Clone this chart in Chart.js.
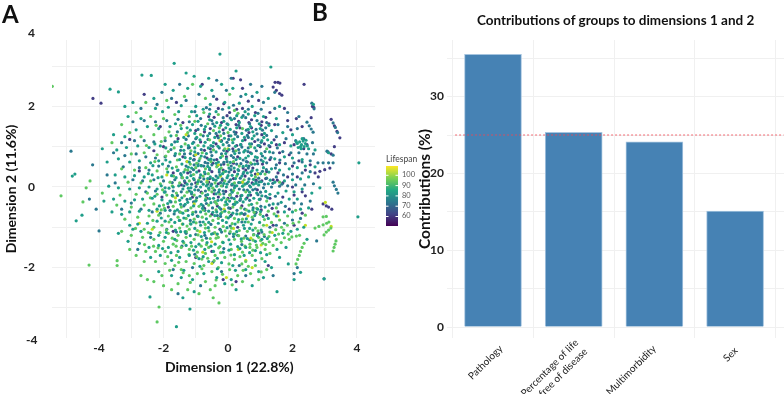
<!DOCTYPE html>
<html>
<head>
<meta charset="utf-8">
<script src="https://cdn.jsdelivr.net/npm/chart.js@4"></script>
<style>
body { margin: 0; background: #fff; }
#page { position: relative; width: 784px; height: 394px; overflow: hidden; font-family: Lato, sans-serif; color: #111; }
canvas { position: absolute; top: 0; }
#scatter { left: 0; }
#bars { left: 412px; }
.txt { position: absolute; font-weight: 700; white-space: nowrap; line-height: 1; }
</style>
</head>
<body>
<div id="page">
<canvas id="scatter" width="440" height="394"></canvas>
<canvas id="bars" width="372" height="394"></canvas>
<div class="txt" style="left:2px;top:2px;font-size:24px">A</div>
<div class="txt" style="left:312px;top:0;font-size:24px">B</div>
<div class="txt" style="left:28px;top:27px;font-size:12px;color:#222">4</div>
<div class="txt" style="left:26px;top:334px;font-size:12px;color:#222">-4</div>
<div class="txt" style="left:165px;top:360px;font-size:14px">Dimension 1 (22.8%)</div>
<div class="txt" id="barTitle" style="left:477px;top:14px;font-size:13.5px"></div>
</div>
<script>
// flat x,y pairs, one list per lifespan colour
const lifespan100 = [
-1.42,-.92,-.35,-1.18,.32,-1.55,1.03,-1.44,-.78,-1.62,-1.05,-.42,.62,-.72,-.12,-.55,-2.35,-1.05,-.3,.55,.45,.12,1.2,-.95,3.2,-.98,3.02,-.38,
-1.9,.3,-.5,-1.9,.75,-2.0,-2.2,-.6,.0,.95,-1.3,1.3,-.65,.15,1.55,-.72,.92,.32,-.05,-2.25,-1.0,.8,2.4,-.95,-2.75,-.9,-.25,1.15,.55,-1.82,
-.87,-1.11,-.51,-1.36,.17,-1.03,-1.63,-.27,.71,-1.27,1.37,-1.13,-.23,.27,-1.27,.63
];
const lifespan90 = [
-5.45,2.5,-5.18,-.22,-4.31,-1.94,-3.44,-1.95,-3.44,-1.83,-2.2,-3.35,-2.14,-2.98,-.28,-2.88,-.46,-2.75,-.9,-2.65,-1.75,-2.55,-2.0,-2.45,-2.3,-2.35,-2.05,-2.2,-2.7,-2.2,-2.5,-2.3,
-1.55,-2.4,-1.25,-2.55,-.7,-2.35,-.55,-2.55,-.4,-2.45,-.95,-2.15,-1.2,-2.2,-1.45,-2.05,-1.65,-1.95,-1.95,-1.9,-2.25,-1.85,-2.6,-1.85,-2.85,-1.7,-3.05,-1.55,-2.55,-1.6,-2.25,-1.6,
-1.95,-1.6,-1.6,-1.7,-1.3,-1.85,-1.05,-1.9,-.75,-1.95,-.5,-2.1,-.3,-2.0,.05,-2.05,.3,-2.2,.45,-2.35,.7,-2.15,.95,-2.3,1.2,-2.05,.85,-1.95,.55,-1.85,.2,-1.8,
-.1,-1.75,-.4,-1.7,-.7,-1.65,-.95,-1.62,-1.2,-1.55,-1.45,-1.5,-1.7,-1.42,-2.0,-1.35,-2.3,-1.3,-2.65,-1.25,-3.0,-1.2,-3.3,-1.1,-.6,-1.5,-.25,-1.48,.1,-1.55,.45,-1.62,.75,-1.7,1.05,-1.78,1.3,-1.65,
-1.85,-1.15,-1.55,-1.2,-1.3,-1.25,-1.05,-1.3,-.8,-1.32,-.55,-1.28,-.3,-1.25,-.05,-1.22,.2,-1.3,.42,-1.35,.68,-1.42,.9,-1.5,1.15,-1.55,1.4,-1.45,1.65,-1.38,1.9,-1.3,2.12,-1.22,
.78,-1.32,.95,-1.25,1.12,-1.18,1.3,-1.12,1.48,-1.06,1.66,-1.0,1.84,-.95,2.02,-.9,2.2,-.87,.68,-1.5,.88,-1.44,1.08,-1.4,1.28,-1.36,1.5,-1.3,1.75,-1.26,1.98,-1.24,2.22,-1.2,
2.11,-1.91,2.16,-1.8,2.21,-1.7,2.25,-1.6,2.3,-1.5,2.36,-1.4,3.26,-1.59,3.29,-1.5,3.32,-1.42,3.35,-1.34,2.7,-1.02,2.82,-.98,2.95,-.94,3.06,-.9,3.13,-.87,2.98,-1.19,3.05,-1.12,3.12,-1.07,3.19,-1.02,2.95,-.74,3.05,-.73,
-2.6,-1.05,-2.3,-1.0,-2.05,-.95,-1.75,-.98,-1.5,-1.02,-1.2,-1.05,-.95,-1.08,-.7,-1.02,-.4,-1.0,-.15,-.98,.1,-1.02,.35,-1.08,.6,-1.1,.85,-1.02,1.1,-.95,1.35,-.88,1.6,-.82,1.85,-.72,
-3.2,-.8,-2.8,-.75,-2.45,-.72,-2.15,-.7,-1.85,-.72,-1.55,-.75,-1.3,-.78,-1.05,-.8,-.8,-.75,-.55,-.72,-.3,-.78,-.05,-.75,.2,-.78,.45,-.8,.75,-.75,1.0,-.68,1.25,-.6,1.5,-.52,2.4,-.7,2.1,-.58,
-3.45,-.45,-3.0,-.5,-2.6,-.45,-2.3,-.42,-2.0,-.45,-1.7,-.48,-1.45,-.5,-1.15,-.52,-.9,-.48,-.6,-.45,-.35,-.42,-.1,-.45,.15,-.5,.4,-.52,.65,-.45,.9,-.4,1.2,-.35,
-3.9,-.15,-4.5,-.37,-3.35,-.2,-2.85,-.18,-2.5,-.15,-2.2,-.18,-1.9,-.2,-1.6,-.15,-1.35,-.22,-1.05,-.2,-.8,-.15,-.5,-.12,-.25,-.18,.05,-.2,.3,-.15,.55,-.12,
-3.1,.12,-2.7,.1,-2.4,.15,-2.1,.08,-1.8,.12,-1.5,.1,-1.2,.15,-.95,.08,-.65,.12,-.4,.1,-.1,.15,.2,.1,.5,.18,.85,.25,1.15,.32,1.6,.12,
-4.28,.15,-4.4,-.02,-3.3,.45,-2.9,.42,-2.55,.48,-2.2,.4,-1.9,.45,-1.6,.5,-1.25,.42,-1.0,.48,-.7,.45,-.35,.5,.0,.55,.35,.52,.7,.6,
-3.6,1.1,-3.0,.82,-2.6,.85,-2.2,.8,-1.85,.88,-1.5,.82,-1.15,.9,-.8,.85,-.45,.92,-.1,.95,.25,.9,.7,1.0,1.2,.95,
-3.3,1.55,-3.05,1.35,-2.7,1.25,-2.3,1.3,-1.95,1.22,-1.6,1.28,-1.25,1.35,-.85,1.3,-.45,1.4,.0,1.35,.45,1.45,
-2.85,1.85,-2.4,1.75,-2.0,1.7,-1.65,1.8,-1.2,1.75,-.75,1.85,-.3,1.8,.2,1.9,-2.55,2.1,-1.9,2.15,-1.35,2.25,-.7,2.2,.05,2.3,-1.1,2.55,
-1.73,-1.27,-1.37,-1.39,-1.13,-1.47,-.93,-1.19,-.67,-1.43,-.41,-1.13,-.17,-1.37,.07,-1.11,.33,-1.21,.53,-1.47,.79,-1.19,1.01,-1.33,-1.91,-1.07,-1.59,-1.33,-1.27,-.97,-.83,-1.47,-.59,-1.09,-.29,-1.51,
-1.83,-.87,-1.47,-.63,-1.17,-.91,-.77,-.57,-.47,-.83,-.19,-.63,.13,-.91,.37,-.67,.63,-.87,.89,-.53,1.13,-.81,1.43,-.67,-1.97,-.53,-1.63,-.37,-1.31,-.59,-.99,-.33,-.69,-.29,-.37,-.57,-.03,-.31,.23,-.37,
-.97,-1.73,-.63,-1.77,-.23,-1.63,.03,-1.91,.37,-1.73,.63,-1.97,-1.53,-1.87,-1.87,-1.73,-2.17,-1.51,-.81,-2.03,-.17,-2.17,.47,-2.07,1.03,-2.11,-1.17,-2.37,-.37,-2.31,.13,-2.43,-2.47,-1.13,-2.87,-1.03,
-2.33,-.83,-2.07,-.57,-2.41,-.27,-2.03,-.07,-1.73,.03,-1.41,.23,-1.07,.31,-.77,.27,-.47,-.03,-.13,.37,.27,.27,-2.27,.63,-1.93,.77,-1.57,.67,-1.17,.57,-.87,.71,-.53,.63,-.17,.77,.17,.63,
-2.53,1.03,-2.07,1.13,-1.67,.97,-1.33,1.07,-.93,1.03,-.57,1.17,-.23,1.27,.13,1.17,-1.47,1.53,-1.03,1.63,-.63,1.57,-.27,1.47,.31,1.83,-1.83,1.37,-2.23,1.53,1.73,-1.07,1.57,-1.17,1.27,-1.23,1.87,-1.17,
-1.29,-1.11,-.99,-.89,-.71,-.93,-.37,-1.27,-.09,-1.09,.21,-1.17,.49,-1.27,.93,-1.09,-1.49,-.83,-1.09,-.63,-.69,-.67,-.39,-.37,.03,-.63,.31,-.87,.57,-.57,.81,-.63,-1.61,-1.47,-1.21,-1.67,-.81,-1.79,-.43,-1.83,.09,-1.69,.43,-1.91,.77,-1.57,1.17,-1.43,
-1.71,-.23,-1.27,-.13,-.91,.17,-.59,-.07,-.21,.03,.17,-.09,.47,.03,-1.69,.27,-1.33,.43,-.97,.59,-.61,.33,-.21,.47,-2.11,-1.13,-2.31,-1.47,-2.59,-1.43,-1.81,-2.07,-1.39,-2.13
];
const lifespan80 = [
-1.6,-3.47,-1.18,-3.03,1.52,-2.6,2.98,-2.28,-2.42,-2.73,-4.71,-.84,-4.53,-.7,4.03,-.74,4.06,.6,1.87,-1.91,2.05,-2.3,2.25,-2.12,-1.4,-2.75,-1.05,-2.6,-.1,-2.4,.25,-2.55,.75,-2.45,1.1,-2.25,
-2.15,-2.1,-1.75,-2.2,-1.45,-2.25,-1.1,-2.3,-.75,-2.15,-.35,-2.25,.1,-2.3,.55,-2.05,.95,-2.1,1.35,-2.0,1.6,-1.75,-2.4,-1.75,-2.1,-1.7,-1.75,-1.82,-1.5,-1.75,-1.2,-1.7,-.9,-1.78,-.6,-1.85,-.2,-1.88,.15,-1.95,.5,-1.7,.85,-1.82,1.15,-1.85,
-3.4,-1.15,-3.1,-1.35,-2.75,-1.4,-2.45,-1.5,-2.15,-1.45,-1.85,-1.5,-1.55,-1.6,-1.3,-1.45,-1.0,-1.48,-.72,-1.55,-.45,-1.6,-.15,-1.62,.2,-1.68,.55,-1.5,.85,-1.58,1.2,-1.68,1.52,-1.55,1.8,-1.5,
-2.95,-1.05,-2.7,-1.1,-2.4,-1.15,-2.15,-1.2,-1.95,-1.25,-1.65,-1.3,-1.4,-1.35,-1.15,-1.38,-.9,-1.42,-.65,-1.38,-.4,-1.42,-.15,-1.38,.08,-1.42,.3,-1.48,.6,-1.28,.85,-1.35,1.05,-1.3,1.22,-1.28,1.45,-1.2,1.7,-1.15,1.95,-1.1,2.15,-1.05,2.35,-1.0,2.45,-1.3,
-3.05,-.95,-2.8,-.92,-2.5,-.9,-2.2,-.85,-1.95,-.85,-1.65,-.88,-1.4,-.92,-1.15,-.92,-.85,-.95,-.6,-.88,-.3,-.9,-.05,-.88,.22,-.92,.48,-.95,.72,-.92,.98,-.88,1.25,-.78,1.5,-.72,1.75,-.62,2.0,-.62,2.25,-.55,2.5,-.52,
-3.6,-.62,-3.3,-.68,-3.05,-.62,-2.75,-.6,-2.45,-.58,-2.2,-.55,-1.95,-.58,-1.65,-.6,-1.4,-.65,-1.1,-.68,-.85,-.62,-.6,-.6,-.35,-.62,-.1,-.6,.15,-.65,.42,-.65,.65,-.6,.92,-.55,1.15,-.5,1.4,-.42,1.65,-.38,1.9,-.3,2.15,-.3,2.6,-.15,
-3.85,-.35,-3.55,-.3,-3.2,-.35,-2.9,-.32,-2.65,-.3,-2.35,-.28,-2.05,-.32,-1.8,-.35,-1.5,-.33,-1.25,-.38,-1.0,-.35,-.7,-.33,-.45,-.28,-.2,-.32,.05,-.35,.28,-.38,.55,-.3,.8,-.28,1.05,-.22,1.3,-.18,1.55,-.15,1.8,-.1,2.05,-.12,2.3,-.05,2.85,-.02,
-3.7,.02,-3.4,-.02,-3.05,-.05,-2.75,-.02,-2.45,.0,-2.2,-.05,-1.95,-.02,-1.7,.0,-1.4,-.05,-1.15,-.02,-.85,.0,-.6,-.03,-.35,.02,-.05,.0,.2,-.02,.45,.02,.7,.0,.95,.05,1.25,.08,1.45,.12,1.75,.15,2.0,.18,2.25,.2,2.5,.25,
-4.83,.27,-4.75,.32,-3.5,.3,-3.2,.25,-2.9,.28,-2.6,.25,-2.35,.3,-2.05,.25,-1.75,.28,-1.45,.3,-1.15,.28,-.85,.3,-.55,.25,-.25,.3,.0,.28,.3,.32,.6,.35,.9,.42,1.1,.48,1.35,.45,1.6,.42,1.9,.45,2.15,.48,2.4,.52,2.7,.5,
-3.75,.62,-3.4,.7,-3.05,.62,-2.75,.65,-2.4,.6,-2.15,.65,-1.8,.62,-1.5,.68,-1.2,.62,-.9,.65,-.6,.68,-.3,.62,-.05,.7,.25,.68,.55,.72,.85,.75,1.15,.72,1.45,.7,1.75,.75,2.0,.72,2.3,.68,
-3.9,.95,-3.45,.92,-3.15,.98,-2.8,1.02,-2.45,.98,-2.1,1.02,-1.75,1.05,-1.45,1.0,-1.1,1.08,-.75,1.02,-.45,1.1,-.15,1.05,.15,1.1,.45,1.15,.75,1.2,1.05,1.15,1.35,1.1,1.6,1.05,1.95,1.02,2.25,1.0,2.5,.95,2.7,.92,
-3.55,1.3,-3.2,1.25,-2.85,1.42,-2.5,1.5,-2.15,1.45,-1.8,1.5,-1.45,1.45,-1.1,1.55,-.7,1.5,-.35,1.6,.0,1.55,.35,1.6,.7,1.5,1.0,1.45,1.35,1.4,1.7,1.35,2.0,1.3,
-3.4,2.36,-3.66,2.43,-2.67,2.78,-2.38,2.77,-1.67,3.07,-1.3,2.83,-.25,3.3,.25,2.88,1.33,2.98,-3.1,1.75,-2.7,1.7,-2.25,1.95,-1.85,1.98,-1.45,2.02,-1.0,2.0,-.55,2.05,-.1,2.1,.35,2.08,.75,2.0,1.1,1.75,1.5,1.7,
-3.2,2.0,-2.95,2.1,-2.3,2.2,-1.7,2.4,-1.25,2.45,-.85,2.5,-.5,2.4,-.2,2.55,.15,2.45,.55,2.3,.9,2.35,1.25,2.2,1.6,2.0,2.65,2.05,-1.95,2.55,-1.05,2.75,-.6,2.7,3.12,.85,
-1.91,-1.13,-1.63,-1.07,-1.33,-1.11,-1.03,-1.03,-.73,-1.13,-.51,-1.17,-.23,-1.07,.03,-1.31,.27,-1.11,.51,-1.03,.77,-1.07,1.03,-1.07,-2.07,-.77,-1.77,-.81,-1.51,-.83,-1.23,-.71,-.93,-.73,-.67,-.79,-.41,-.71,-.17,-.83,.07,-.73,.33,-.81,.57,-.79,.83,-.71,1.09,-.73,
-2.13,-.47,-1.87,-.41,-1.57,-.57,-1.33,-.43,-1.07,-.47,-.79,-.53,-.53,-.39,-.27,-.51,-.03,-.43,.21,-.43,.47,-.37,.73,-.43,.97,-.31,1.23,-.27,-2.27,-.23,-1.97,-.13,-1.73,-.21,-1.43,-.27,-1.13,-.13,-.87,-.23,-.63,-.19,-.37,-.17,-.13,-.27,.13,-.13,.39,-.29,.63,-.21,.89,-.15,1.17,-.11,
-2.07,.03,-1.83,-.03,-1.53,.03,-1.27,.07,-1.03,-.07,-.77,.07,-.53,.03,-.27,-.07,-.03,.07,.27,.03,.53,.07,.79,.07,1.03,.13,1.31,.17,-2.47,.33,-2.17,.23,-1.87,.37,-1.61,.23,-1.37,.37,-1.07,.21,-.73,.37,-.47,.21,-.17,.33,.13,.29,.43,.27,.73,.29,1.01,.33,1.27,.37,
-2.33,.53,-2.03,.57,-1.73,.47,-1.43,.57,-1.13,.47,-.83,.53,-.57,.47,-.27,.43,.03,.47,.31,.43,.57,.53,.83,.57,1.09,.63,-1.93,.67,-1.63,.83,-1.33,.73,-1.03,.87,-.67,.83,-.37,.87,-.07,.83,.21,.83,.49,.87,.73,.83,1.03,.83,1.29,.87,
-2.27,1.07,-1.93,.97,-1.57,1.13,-1.23,1.03,-.87,1.17,-.53,1.03,-.21,1.13,.09,1.27,.39,1.05,.67,1.07,.97,1.03,1.23,1.17,-1.77,1.27,-1.37,1.23,-1.03,1.33,-.63,1.27,-.27,1.37,.07,1.43,.43,1.33,.77,1.37,1.13,1.33,-1.63,1.57,-1.27,1.47,-.93,1.63,-.57,1.67,-.23,1.53,.11,1.67,.43,1.73,.83,1.77,
-1.53,1.87,-1.13,1.87,-.77,1.93,-.37,1.87,.03,1.97,.53,1.87,-2.03,1.87,-1.37,-2.07,-.87,-1.97,-.33,-2.03,.23,-2.07,-1.07,-1.57,-.77,-1.73,-.33,-1.77,.03,-1.57,.37,-1.53,.67,-1.63,1.01,-1.63,-1.77,-1.63,-2.03,-1.53,-.53,-1.47,
-1.47,-1.11,-1.17,-1.21,-.83,-1.23,-.61,-1.01,-.33,-1.17,-.03,-1.01,.17,-1.17,.41,-1.29,.67,-1.03,.91,-1.21,-1.37,-.77,-1.07,-.87,-.77,-.87,-.47,-.63,-.23,-.67,.01,-.77,.27,-.67,.53,-.87,.77,-.57,1.01,-.61,-1.47,-.43,-1.17,-.29,-.83,-.43,-.57,-.29,-.31,-.33,-.07,-.37,.19,-.29,.43,-.21,.67,-.13,
-1.23,-.03,-.93,.13,-.67,.03,-.37,.17,-.13,.09,.13,.07,.37,.11,.63,.13,.87,.09,-1.27,.23,-.97,.37,-.63,.21,-.31,.23,-.03,.23,.23,.21,.49,.37,.79,.19,-1.57,.41,-1.23,.49,-.93,.53,-.63,.51,-.37,.59,-.07,.39,.19,.47,.47,.51,.75,.41,-1.17,.71,-.83,.77,-.53,.69,-.23,.73,.07,.61,.37,.71,.63,.77,.91,.73,
-1.37,.91,-1.03,.97,-.61,.97,-.31,1.01,.03,.93,.23,1.01,.53,.91,.83,.97,-.97,1.23,-.71,1.11,-.41,1.23,-.11,1.21,.19,1.19,.51,1.23,.81,1.27,1.11,1.23,-1.17,1.41,-.73,1.43,-.41,1.51,-.07,1.47,.27,1.47,.63,1.43,.97,1.57,1.27,1.53,-.97,1.77,-.57,1.81,-.13,1.63,.27,1.77,.63,1.81,
2.15,1.08,2.22,1.12,2.28,1.05,2.33,1.14,2.4,1.08,2.18,.98,2.27,.95,2.36,1.0,2.42,1.16,2.3,1.2,2.12,1.12,2.46,1.02
];
const lifespan70 = [
-4.87,.89,-4.0,-1.09,-4.09,-.55,-4.3,-.3,-4.2,.55,-3.75,.3,-3.5,.1,2.98,-2.28,2.05,-2.15,2.75,-1.34,2.15,-2.0,-1.55,-2.65,-.85,-2.45,-.2,-2.1,.55,-2.2,1.4,-2.2,.35,-1.95,-1.1,-2.0,-1.7,-2.05,
-2.8,-1.55,-2.4,-1.25,-1.9,-1.05,-1.6,-1.12,-1.3,-1.15,-1.0,-1.18,-.72,-1.2,-.45,-1.15,-.2,-1.12,.05,-1.15,.3,-1.2,.55,-1.22,.8,-1.18,1.05,-1.12,1.3,-1.0,1.5,-.95,1.75,-.9,2.0,-.82,2.25,-.78,
-3.3,-.55,-3.0,-.4,-2.7,-.55,-2.35,-.62,-2.1,-.65,-1.8,-.58,-1.5,-.62,-1.25,-.58,-1.0,-.62,-.72,-.58,-.48,-.52,-.22,-.55,.02,-.52,.28,-.58,.52,-.55,.78,-.52,1.02,-.48,1.28,-.45,1.55,-.42,1.78,-.48,2.05,-.4,2.28,-.42,2.55,-.35,
-2.55,-.12,-2.25,-.1,-1.95,-.12,-1.7,-.1,-1.45,-.12,-1.2,-.1,-.92,-.08,-.7,-.1,-.42,-.08,-.15,-.1,.1,-.08,.35,-.05,.6,-.08,.85,-.05,1.1,-.02,1.35,.0,1.6,.02,1.85,.03,2.1,.05,2.38,.05,2.65,.08,3.26,.12,3.3,.03,3.36,-.06,3.41,-.15,
-2.95,.18,-2.65,.15,-2.3,.18,-2.0,.15,-1.65,.18,-1.35,.15,-1.05,.18,-.75,.2,-.45,.18,-.18,.2,.08,.18,.38,.22,.65,.2,.95,.22,1.2,.22,1.5,.25,1.72,.3,2.0,.32,2.3,.35,2.55,.38,2.79,.6,2.95,.6,3.12,.6,3.26,.6,
-3.25,.5,-2.75,.48,-2.45,.42,-2.15,.52,-1.85,.52,-1.55,.42,-1.3,.52,-1.05,.55,-.75,.52,-.5,.55,-.22,.55,.1,.52,.4,.58,.65,.52,.92,.58,1.2,.6,1.5,.55,1.78,.58,2.05,.6,2.3,.62,2.55,.65,
-3.55,.85,-3.2,.78,-2.85,.82,-2.55,.75,-2.25,.72,-1.95,.75,-1.65,.78,-1.35,.82,-1.05,.78,-.72,.75,-.5,.78,-.2,.82,.1,.78,.35,.85,.62,.88,.88,.9,1.15,.88,1.4,.85,1.7,.88,1.95,.85,2.2,.85,2.45,.82,2.65,.82,
-3.3,1.1,-2.9,1.15,-2.6,1.15,-2.3,1.12,-1.95,1.15,-1.65,1.12,-1.3,1.18,-1.0,1.2,-.62,1.18,-.3,1.22,.02,1.18,.3,1.25,.6,1.28,.9,1.32,1.2,1.28,1.5,1.25,1.8,1.2,2.1,1.15,2.35,1.2,2.62,1.1,
-2.95,1.62,-2.6,1.65,-2.25,1.62,-1.9,1.65,-1.55,1.68,-1.2,1.62,-.85,1.7,-.5,1.65,-.15,1.72,.2,1.7,.55,1.72,.9,1.65,1.2,1.6,1.55,1.55,1.85,1.5,2.15,1.45,2.45,1.61,2.52,1.52,2.58,1.44,2.64,1.36,3.26,1.59,3.33,1.48,3.4,1.35,
-2.2,2.05,-1.75,2.2,-1.3,2.15,-.9,2.3,-.45,2.25,-.05,2.4,.4,2.25,.75,2.25,1.1,2.1,1.45,1.95,1.85,1.85,2.2,1.75,2.6,2.08,2.67,1.94,-2.05,2.35,-1.5,2.55,-.35,2.65,.1,2.7,.7,2.55,1.05,2.5,1.45,2.35,3.07,.89,3.26,.79,-2.7,1.95,
-1.57,-.21,-1.27,-.31,-.97,-.27,-.67,-.41,-.41,-.37,-.13,-.17,.11,-.27,.37,-.33,.67,-.33,.93,-.19,1.17,-.23,1.47,-.23,-1.73,.11,-1.43,.23,-1.13,.07,-.83,.13,-.51,.07,-.23,.11,.03,.13,.33,.11,.59,.09,.87,.13,1.13,.07,1.39,.09,1.67,.07,
-1.47,.33,-1.17,.37,-.87,.23,-.57,.43,-.27,.37,.03,.37,.33,.41,.63,.47,.93,.33,1.19,.43,1.47,.47,-1.27,.63,-.93,.57,-.63,.59,-.33,.53,-.03,.63,.27,.57,.57,.63,.81,.67,1.07,.77,1.33,.73,1.61,.67,-1.77,.93,-1.47,.91,-1.17,.83,-.83,.93,-.53,.87,-.27,.97,.03,1.03,.33,.93,.63,.97,.93,1.03,1.27,1.03,1.53,.97,
-1.57,1.37,-1.23,1.27,-.93,1.43,-.57,1.33,-.13,1.33,.19,1.37,.57,1.41,.87,1.43,1.17,1.47,-1.03,1.87,-.67,1.97,-.17,1.93,.17,2.03,.63,1.93,1.03,1.93,-1.77,-.37,-1.37,-.47,-1.07,-.37,-.77,-.47,-.33,-.71,.17,-.43,.53,-.67,.87,-.63,
-1.67,-.67,-1.17,-.83,-.87,-.87,-.53,-.93,-.23,-.73,.07,-.97,.43,-.87,.77,-.81,-1.43,-1.47,-1.03,-1.67,-.47,-1.87,.17,-1.23,.67,-1.31,1.13,-1.23,-.67,-1.27,-.13,-1.53,.43,-1.43,
-1.13,-.17,-.69,-.21,-.29,-.13,.07,-.19,.49,-.07,.77,-.07,1.01,-.13,-1.37,.03,-.99,.01,-.63,.07,-.17,.03,.21,.03,.67,.03,.97,.13,-1.07,.43,-.71,.33,-.37,.27,.09,.43,.47,.33,.71,.37,1.07,.39,-1.07,.67,-.71,.61,-.43,.67,-.13,.61,.17,.73,.47,.67,.73,.57,1.03,.67,
-1.23,.97,-.93,.83,-.47,1.01,-.13,.91,.17,.89,.43,.99,.73,1.07,1.03,1.11,-1.07,1.11,-.77,1.27,-.37,1.33,-.03,1.11,.23,1.31,.63,1.23,.93,1.17,-.83,1.53,-.47,1.57,-.03,1.57,.33,1.53,.67,1.57,1.07,1.41,-.57,1.93,.07,1.71,.47,1.77,.93,1.83
];
const lifespan60 = [
2.36,2.55,1.46,2.6,1.55,2.6,1.61,2.58,.16,2.7,.39,2.66,-4.19,2.2,-3.94,2.08,-2.6,2.3,-.8,2.55,1.4,2.48,1.5,2.4,1.6,2.32,1.67,2.28,.45,2.45,.95,2.15,1.75,1.95,2.12,1.7,2.58,1.72,
3.2,1.68,3.3,1.52,3.38,1.38,3.47,1.22,2.62,2.0,2.66,1.98,3.1,.87,3.2,.82,2.7,.35,2.85,.39,3.0,.43,3.16,.47,2.95,-.42,3.05,-.47,3.12,-.5,3.22,-.55,3.3,1.0,
-.3,1.95,.05,1.85,.45,1.95,.85,1.85,1.3,1.85,-.6,1.75,-.2,1.6,.25,1.55,.65,1.6,1.05,1.62,1.45,1.55,1.85,1.65,2.3,1.5,-1.4,1.6,-1.0,1.4,-.55,1.45,-.15,1.42,.25,1.35,.65,1.35,1.05,1.3,1.5,1.05,1.75,1.1,2.05,1.05,2.45,1.05,
-2.0,1.0,-1.55,1.2,-1.2,.98,-.85,1.12,-.55,.95,-.2,1.15,.15,.95,.4,1.05,.7,.85,1.0,1.0,1.3,1.0,1.6,.85,1.9,.8,2.2,.65,2.55,.55,-1.4,.75,-1.05,.68,-.65,.72,-.35,.68,-.05,.75,.3,.75,.6,.62,.9,.65,1.3,.68,1.6,.6,2.0,.52,2.4,.42,2.8,.25,
-1.7,.35,-1.25,.35,-.9,.4,-.5,.38,-.15,.42,.2,.38,.55,.42,.85,.32,1.2,.38,1.55,.35,1.85,.25,2.15,.25,-1.45,.05,-1.0,.1,-.6,.12,-.3,.08,.12,.05,.45,.12,.75,.1,1.05,.15,1.4,.18,1.7,.1,2.0,.0,2.3,-.12,
-1.85,-.5,-1.1,-.25,-.65,-.28,-.3,-.25,.0,-.28,.4,-.22,.7,-.2,1.0,-.3,1.3,-.28,1.7,-.25,2.05,-.2,2.4,-.22,-.95,-.72,-.5,-.68,.1,-.7,.5,-.68,.85,-.65,1.2,-.7,1.55,-.62,1.9,-.55,2.3,-.65,-1.7,-1.1,-.25,-1.05,.3,-1.0,.95,-1.15,1.4,-.95,2.6,-.55,
-2.05,-.25,-2.75,.4,-2.3,.9,-3.05,1.18,-1.0,-1.75,-.5,-1.6,-2.1,1.5,-.35,2.18,-1.6,2.1,1.95,1.42,2.35,.95,.25,-2.35,-.15,-2.3,1.25,-1.95,2.05,-.95,
-.83,.53,-.47,.59,-.13,.57,.17,.59,.47,.47,.77,.47,1.07,.57,-.73,.91,-.37,1.07,-.03,.89,.27,1.03,.53,1.17,.83,1.13,1.13,1.07,1.43,1.17,-.73,1.37,-.33,1.27,.03,1.27,.37,1.47,.73,1.47,1.03,1.53,1.27,1.57,
-.43,1.73,-.03,1.77,.33,1.63,.73,1.67,1.17,1.73,-.13,2.07,.27,1.93,.63,2.13,-.57,.21,-.17,.17,.17,.21,.53,.27,.87,.17,1.17,.21,1.53,.17,-1.33,.11,-.83,-.13,-.43,-.17,-.07,-.11,.27,-.23,.59,-.27,.91,-.07,-.73,-.53,-.33,-.47,.07,-.53,.43,-.47,1.03,-.57,1.37,-.53
];
const barTitle = "Contributions of groups to dimensions 1 and 2";
const groups = [["Pathology"], ["Percentage of life", "free of disease"], ["Multimorbidity"], ["Sex"]];
const contributions = [35.5, 25.35, 24.1, 15.1];
const expectedLine = 25;
const lifespanTicks = [60, 70, 80, 90, 100];
const viridis = ["#440154", "#414487", "#2a788e", "#22a884", "#7ad151", "#fde725"];

document.getElementById("barTitle").textContent = barTitle;

function pairs(flat) {
    const out = [];
    for (let i = 0; i < flat.length; i += 2) out.push({ x: flat[i], y: flat[i + 1] });
    return out;
}

const band = (data, color) => ({ data: pairs(data), backgroundColor: color, borderWidth: 0, pointRadius: 1.6 });
const gridColor = "#f0f0f0";
const tickFont = { family: "Lato", weight: "bold", size: 12 };
const titleFont = { family: "Lato", weight: "bold", size: 14 };

// small colour bar for the lifespan scale
const colourBar = {
    id: "colourBar",
    afterDraw(chart) {
        const c = chart.ctx;
        const left = 386, top = 166, w = 12, h = 60;
        const g = c.createLinearGradient(0, top + h, 0, top);
        viridis.forEach((col, i) => g.addColorStop(i / (viridis.length - 1), col));
        c.save();
        c.fillStyle = g;
        c.fillRect(left, top, w, h);
        c.fillStyle = "#444";
        c.font = "8.5px Lato";
        c.textBaseline = "middle";
        c.fillText("Lifespan", left, 159);
        c.font = "7.5px Lato";
        lifespanTicks.forEach(v => {
            const y = 216 - (v - 60) * 1.03;
            c.fillStyle = "#555";
            c.fillText(v, 402, y);
            c.fillStyle = "#fff";
            c.fillRect(left, y, 2.5, 1);
            c.fillRect(left + w - 2.5, y, 2.5, 1);
        });
        c.restore();
    }
};

// the slanted group names sit a little differently under each tick in the original
const nudge = [[8, 347], [3, 341], [0, 347], [1, 349]];
const slantedLabels = {
    id: "slantedLabels",
    afterDraw(chart) {
        const c = chart.ctx;
        const x = chart.scales.x;
        c.save();
        c.fillStyle = "#222";
        c.font = "10px Lato";
        c.textAlign = "right";
        c.textBaseline = "middle";
        groups.forEach((lines, i) => {
            lines.forEach((line, j) => {
                c.save();
                c.translate(x.getPixelForValue(i) + nudge[i][0] + j * 9, nudge[i][1] + j * 9);
                c.rotate(-Math.PI / 4);
                c.fillText(line, 0, 0);
                c.restore();
            });
        });
        c.restore();
    }
};

new Chart(document.getElementById("scatter"), {
    type: "scatter",
    data: {
        datasets: [
            band(lifespan80, "#1f9e89"),
            band(lifespan90, "#5ec962"),
            band(lifespan100, "#c2df23"),
            band(lifespan70, "#2a788e"),
            band(lifespan60, "#433e85")
        ]
    },
    options: {
        responsive: false,
        animation: false,
        layout: { padding: { top: 40, right: 65 } },
        plugins: { legend: { display: false }, tooltip: { enabled: false } },
        scales: {
            x: {
                min: -5.46, max: 4.56,
                afterFit: s => { s.height = 56; },
                afterBuildTicks: s => { s.ticks = [-5, -4, -3, -2, -1, 0, 1, 2, 3, 4].map(value => ({ value })); },
                grid: { color: gridColor, drawTicks: false },
                border: { display: false },
                ticks: { padding: 3, color: "#222", font: tickFont, maxRotation: 0, autoSkip: false, callback: v => v % 2 === 0 ? v : "" }
            },
            y: {
                min: -3.75, max: 3.65,
                afterFit: s => { s.width = 52; },
                afterBuildTicks: s => { s.ticks = [-3, -2, -1, 0, 1, 2, 3].map(value => ({ value })); },
                grid: { color: gridColor, drawTicks: false },
                border: { display: false },
                ticks: { padding: 17, color: "#222", font: tickFont, autoSkip: false, callback: v => v % 2 === 0 ? v : "" },
                title: { display: true, text: "Dimension 2 (11.6%)", color: "#111", font: titleFont, padding: { top: 3, bottom: 0 } }
            }
        }
    },
    plugins: [colourBar]
});

new Chart(document.getElementById("bars"), {
    type: "bar",
    data: {
        datasets: [
            {
                type: "line",
                data: [{ x: -0.47, y: expectedLine }, { x: 3.6, y: expectedLine }],
                borderColor: "rgba(240,70,80,0.8)",
                borderWidth: 1,
                borderDash: [2, 2],
                pointRadius: 0,
                order: 0
            },
            {
                data: contributions.map((y, x) => ({ x, y })),
                backgroundColor: "#4682b4",
                borderColor: "#a5c4df",
                borderWidth: 1,
                barThickness: 57,
                order: 1
            }
        ]
    },
    options: {
        responsive: false,
        animation: false,
        layout: { padding: { top: 40 } },
        plugins: { legend: { display: false }, tooltip: { enabled: false } },
        scales: {
            x: {
                type: "linear",
                offset: false,
                min: -0.57, max: 3.606,
                afterFit: s => { s.height = 56; },
                afterBuildTicks: s => { s.ticks = groups.map((_, value) => ({ value })); },
                grid: { color: gridColor, drawTicks: false },
                border: { display: false },
                ticks: { display: false }
            },
            y: {
                min: -1.43, max: 37.37,
                afterFit: s => { s.width = 35; },
                afterBuildTicks: s => { s.ticks = [0, 5, 10, 15, 20, 25, 30, 35].map(value => ({ value })); },
                grid: { color: gridColor, drawTicks: false },
                border: { display: false },
                ticks: { padding: 3, color: "#222", font: tickFont, autoSkip: false, callback: v => v % 10 === 0 ? v : "" },
                title: { display: true, text: "Contributions (%)", color: "#111", font: { family: "Lato", weight: "bold", size: 15.5 }, padding: { top: 4, bottom: 0 } }
            }
        }
    },
    plugins: [slantedLabels]
});
</script>
</body>
</html>
